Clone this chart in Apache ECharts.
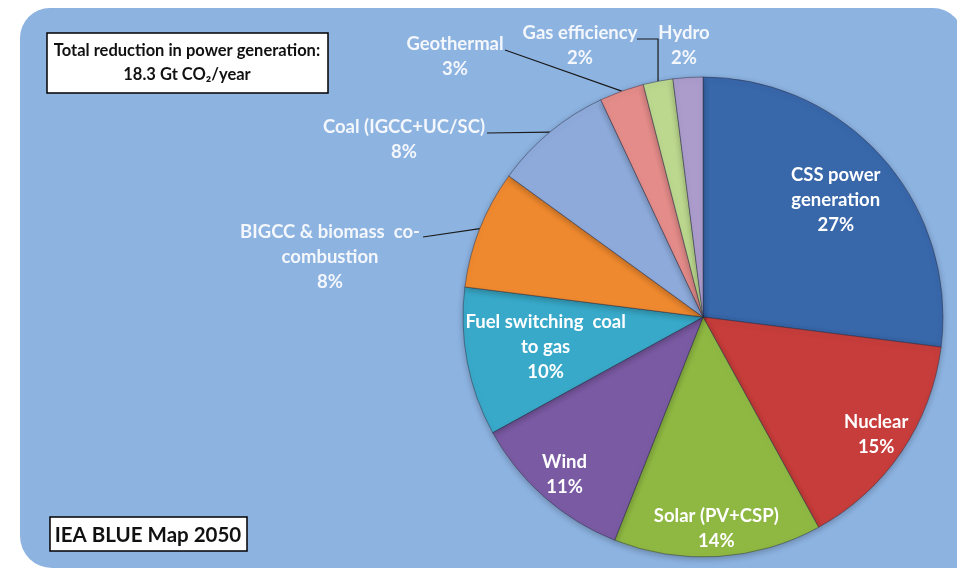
<!DOCTYPE html>
<html>
<head>
<meta charset="utf-8">
<script src="https://cdn.jsdelivr.net/npm/echarts@6/dist/echarts.min.js"></script>
<style>
html,body{margin:0;padding:0;background:#fff;}
#main{width:957px;height:570px;}
</style>
</head>
<body>
<div id="main"></div>
<script>
// ---- data ----
const categories = [
  'CSS power\ngeneration', 'Nuclear', 'Solar (PV+CSP)', 'Wind',
  'Fuel switching  coal\nto gas', 'BIGCC & biomass  co-\ncombustion',
  'Coal (IGCC+UC/SC)', 'Geothermal', 'Gas efficiency', 'Hydro'
];
const shares = [27, 15, 14, 11, 10, 8, 8, 3, 2, 2];
const colors = ['#3867AA', '#C63D3B', '#8FB843', '#7A5AA3', '#39A9C9',
                '#EE892F', '#8DAADA', '#E38C8A', '#BCD88F', '#AB9CCB'];
const titleLines = ['Total reduction in power generation:', '18.3 Gt CO\u2082/year'];
const footnote = 'IEA BLUE Map 2050';

// ---- layout / style ----
const C = [703, 317];
const R = 240;
const FONT = 'Lato, "Open Sans", sans-serif';
const LBL_SIZE = 18.5;
const LBL_LH = 25;

// inside label radial placement (fraction of radius) per category index
const insideRatio = { 0: 0.725, 1: 0.86, 2: 0.87, 3: 0.86, 4: 0.655 };

// outside label text centers and leader start points (label side)
const outsidePos = {
  5: { c: [330, 257], s: [423, 237] },
  6: { c: [404, 140], s: [487, 133] },
  7: { c: [455, 57],  s: [505, 50] },
  8: { c: [580, 46],  s: [637, 39], elbow: true },
  9: { c: [684, 46],  s: null }
};

const mainData = categories.map((n, i) => {
  const inside = insideRatio[i] != null;
  return {
    name: n,
    value: shares[i],
    itemStyle: { color: colors[i] },
    label: { show: !inside },
    labelLine: { show: !inside && outsidePos[i] && outsidePos[i].s != null }
  };
});

function overlay(ratio, idxs) {
  return {
    type: 'pie',
    silent: true,
    center: C,
    radius: [(2 * ratio - 1) * R, R],
    startAngle: 90,
    clockwise: true,
    z: 5,
    itemStyle: { color: 'rgba(0,0,0,0)', borderWidth: 0 },
    label: {
      position: 'inside',
      formatter: '{b}\n{d}%',
      color: '#ffffff',
      fontFamily: FONT,
      fontWeight: 'bold',
      fontSize: LBL_SIZE,
      lineHeight: LBL_LH,
      align: 'center'
    },
    labelLine: { show: false },
    data: categories.map((n, i) => ({
      name: n, value: shares[i],
      label: { show: idxs.includes(i) }
    }))
  };
}

// group inside labels by ratio
const ratioGroups = {};
Object.keys(insideRatio).forEach(k => {
  const r = insideRatio[k];
  (ratioGroups[r] = ratioGroups[r] || []).push(+k);
});
const overlays = Object.keys(ratioGroups).map(r => overlay(+r, ratioGroups[r]));

const chart = echarts.init(document.getElementById('main'));
chart.setOption({
  backgroundColor: '#ffffff',
  animation: false,
  graphic: [
    {
      type: 'rect', z: -10,
      shape: { x: 20, y: 8, width: 943, height: 560, r: [30, 30, 0, 32] },
      style: { fill: '#8DB3E1' }
    },
    {
      type: 'group', z: 10,
      children: [
        { type: 'rect', shape: { x: 47, y: 33, width: 281, height: 60 },
          style: { fill: '#ffffff', stroke: '#000000', lineWidth: 1.5 } },
        { type: 'text', style: { x: 187, y: 51, text: titleLines[0], fill: '#111111',
            font: 'bold 16.5px ' + FONT, textAlign: 'center', textVerticalAlign: 'middle' } },
        { type: 'text', style: { x: 187, y: 75, text: titleLines[1], fill: '#111111',
            font: 'bold 16.5px ' + FONT, textAlign: 'center', textVerticalAlign: 'middle' } },
        { type: 'rect', shape: { x: 50, y: 517, width: 197, height: 34 },
          style: { fill: '#ffffff', stroke: '#000000', lineWidth: 1.5 } },
        { type: 'text', style: { x: 148, y: 535, text: footnote, fill: '#111111',
            font: 'bold 20.5px ' + FONT, textAlign: 'center', textVerticalAlign: 'middle' } }
      ]
    }
  ],
  series: [
    {
      type: 'pie',
      center: C,
      radius: R,
      startAngle: 90,
      clockwise: true,
      z: 2,
      itemStyle: { borderColor: 'rgba(40,40,60,0.45)', borderWidth: 1,
                   shadowBlur: 6, shadowColor: 'rgba(0,0,0,0.25)', shadowOffsetY: 2 },
      label: {
        position: 'outside',
        formatter: '{b}\n{d}%',
        color: '#F4F7FB',
        fontFamily: FONT,
        fontWeight: 'bold',
        fontSize: LBL_SIZE,
        lineHeight: LBL_LH,
        align: 'center'
      },
      labelLine: { show: true, length: 10, length2: 10, lineStyle: { color: '#1b1b1b', width: 1.2 } },
      labelLayout: function (p) {
        const o = outsidePos[p.dataIndex];
        if (!o) return {};
        const res = { x: o.c[0], y: o.c[1], align: 'center', verticalAlign: 'middle' };
        if (o.s && p.labelLinePoints && p.labelLinePoints.length) {
          const a = p.labelLinePoints[0];
          res.labelLinePoints = o.elbow
            ? [o.s, [a[0], o.s[1]], a]
            : [o.s, a];
        }
        return res;
      },
      data: mainData
    }
  ].concat(overlays)
});
</script>
</body>
</html>
